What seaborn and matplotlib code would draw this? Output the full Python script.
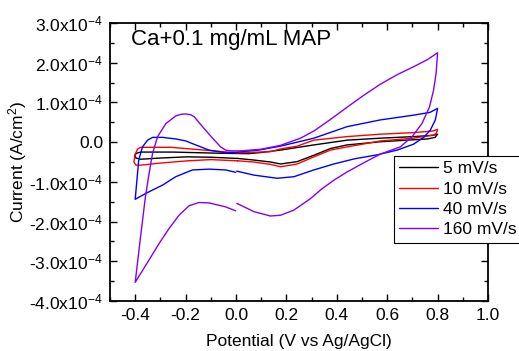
import pandas as pd
import seaborn as sns
import matplotlib
matplotlib.use('Agg')
import matplotlib.pyplot as plt
from matplotlib.ticker import MultipleLocator, FuncFormatter

# CV curves, current in units of 1e-4 A/cm2; each loop starts at 0 V on the cathodic branch
x_5 = [0.006, -0.100, -0.192, -0.300, -0.378, -0.397, -0.402, -0.395, -0.378, -0.250, -0.061, 0.050,
       0.100, 0.177, 0.309, 0.441, 0.573, 0.705, 0.780, 0.800, 0.790, 0.760, 0.705, 0.573, 0.441,
       0.375, 0.309, 0.243, 0.177, 0.137, 0.070, 0.006]
y_5 = [-0.41, -0.38, -0.37, -0.40, -0.43, -0.40, -0.33, -0.28, -0.25, -0.25, -0.28, -0.29,
       -0.26, -0.20, -0.07, 0.05, 0.10, 0.14, 0.17, 0.20, 0.12, 0.08, 0.06, 0.01, -0.07,
       -0.16, -0.33, -0.49, -0.55, -0.50, -0.45, -0.41]

x_10 = [0.006, -0.100, -0.192, -0.305, -0.378, -0.397, -0.405, -0.400, -0.390, -0.378, -0.259, -0.127,
        0.006, 0.137, 0.177, 0.243, 0.309, 0.441, 0.573, 0.705, 0.780, 0.800, 0.795, 0.784, 0.705,
        0.573, 0.441, 0.375, 0.309, 0.243, 0.177, 0.137, 0.070, 0.006]
y_10 = [-0.47, -0.44, -0.47, -0.53, -0.58, -0.58, -0.50, -0.30, -0.17, -0.13, -0.13, -0.20,
        -0.27, -0.24, -0.17, -0.10, 0.05, 0.14, 0.20, 0.24, 0.28, 0.32, 0.22, 0.18, 0.10,
        0.03, -0.12, -0.20, -0.37, -0.55, -0.62, -0.56, -0.50, -0.47]

x_40 = [-0.001, -0.041, -0.107, -0.173, -0.239, -0.291, -0.358, -0.400,
        -0.386, -0.371, -0.351, -0.331, -0.291, -0.239, -0.199, -0.160, -0.107, -0.041, 0.006,
        0.090, 0.177, 0.309, 0.441, 0.573, 0.705, 0.770, 0.800,
        0.791, 0.771, 0.745, 0.705, 0.640, 0.560, 0.470, 0.388, 0.309, 0.230, 0.164, 0.071, 0.003]
y_40 = [-0.76, -0.70, -0.68, -0.70, -0.87, -1.08, -1.29, -1.44,
        -0.45, -0.12, 0.05, 0.12, 0.12, 0.08, 0.03, -0.07, -0.20, -0.27, -0.25,
        -0.20, -0.10, 0.10, 0.39, 0.56, 0.68, 0.75, 0.85,
        0.56, 0.30, 0.12, -0.05, -0.20, -0.32, -0.42, -0.55, -0.70, -0.87, -0.91, -0.83, -0.73]

x_160 = [-0.001, -0.041, -0.107, -0.147, -0.186, -0.226, -0.265, -0.305, -0.358, -0.400,
         -0.380, -0.360, -0.347, -0.331, -0.311, -0.278, -0.239, -0.219, -0.199, -0.180, -0.166,
         -0.133, -0.093, -0.061, -0.041, -0.020, 0.019, 0.098, 0.177, 0.256, 0.309, 0.370, 0.441,
         0.507, 0.573, 0.640, 0.705, 0.760, 0.800,
         0.794, 0.784, 0.768, 0.738, 0.699, 0.652, 0.573, 0.507, 0.441, 0.388, 0.340, 0.296,
         0.230, 0.177, 0.137, 0.071, 0.003]
y_160 = [-1.73, -1.63, -1.53, -1.52, -1.60, -1.84, -2.17, -2.55, -3.10, -3.53,
         -2.45, -1.40, -0.87, -0.28, 0.14, 0.47, 0.66, 0.70, 0.71, 0.69, 0.64,
         0.39, 0.10, -0.12, -0.20, -0.22, -0.22, -0.18, -0.08, 0.10, 0.28, 0.55, 0.88,
         1.18, 1.46, 1.70, 1.90, 2.08, 2.25,
         1.73, 1.31, 0.89, 0.47, 0.14, -0.12, -0.30, -0.52, -0.75, -0.96, -1.18, -1.42,
         -1.71, -1.84, -1.86, -1.75, -1.54]

labels = ['5 mV/s', '10 mV/s', '40 mV/s', '160 mV/s']
colors = ['#000000', '#FF0000', '#0000FF', '#8000FF']

# long table for seaborn
frames = []
for lab, xs, ys in zip(labels, [x_5, x_10, x_40, x_160], [y_5, y_10, y_40, y_160]):
    frames.append(pd.DataFrame({'Potential': xs,
                                'Current': [v * 1e-4 for v in ys],
                                'rate': lab}))
df = pd.concat(frames, ignore_index=True)

sns.set_theme(style='ticks')
plt.rcParams['font.family'] = ['Liberation Sans', 'DejaVu Sans']
plt.rcParams['mathtext.default'] = 'regular'
for k in ['text.color', 'axes.labelcolor', 'xtick.color', 'ytick.color', 'axes.edgecolor']:
    plt.rcParams[k] = 'black'

fig = plt.figure(figsize=(5.19, 3.51), dpi=100)
ax = fig.add_axes([110 / 519, 1 - 301 / 351, 378 / 519, 278 / 351])

sns.lineplot(data=df, x='Potential', y='Current', hue='rate', hue_order=labels,
             palette=colors, sort=False, estimator=None, linewidth=1.0, ax=ax)

ax.set_xlim(-0.5, 1.0)
ax.set_ylim(-4e-4, 3e-4)
ax.xaxis.set_major_locator(MultipleLocator(0.2))
ax.xaxis.set_minor_locator(MultipleLocator(0.1))
ax.yaxis.set_major_locator(MultipleLocator(1e-4))
ax.yaxis.set_minor_locator(MultipleLocator(0.5e-4))


def sci_fmt(v, pos):
    if abs(v) < 1e-12:
        return '0.0'
    return '%.1fx10$^{-4}$' % (v * 1e4)


ax.yaxis.set_major_formatter(FuncFormatter(sci_fmt))
ax.xaxis.set_major_formatter(FuncFormatter(lambda v, p: '%.1f' % v if abs(v) > 1e-9 else '0.0'))
ax.tick_params(which='both', direction='in', top=True, right=True, colors='black',
               labelsize=12.5, width=1.0, pad=5)
ax.tick_params(which='major', length=5)
ax.tick_params(which='minor', length=3)
for s in ax.spines.values():
    s.set_linewidth(1.3)
    s.set_color('black')

ax.set_xlabel('Potential (V vs Ag/AgCl)', fontsize=12.5, labelpad=8)
ax.set_ylabel('Current (A/cm$^2$)', fontsize=12.5, labelpad=0)

ax.text(131 / 519, 1 - 45 / 351, 'Ca+0.1 mg/mL MAP', fontsize=16, va='baseline', ha='left',
        transform=fig.transFigure, zorder=10)

ax.get_legend().remove()
leg = fig.legend(handles=ax.get_lines()[:4], labels=labels, loc='upper left',
                 bbox_to_anchor=(394 / 519, 1 - 156 / 351), bbox_transform=fig.transFigure,
                 borderaxespad=0, fontsize=12.5, frameon=True, fancybox=False,
                 framealpha=1, edgecolor='black', handlelength=2.25, handletextpad=0.3,
                 labelspacing=0.3, borderpad=0.3)
leg.get_frame().set_linewidth(0.8)

fig.savefig('out.png', dpi=100)
